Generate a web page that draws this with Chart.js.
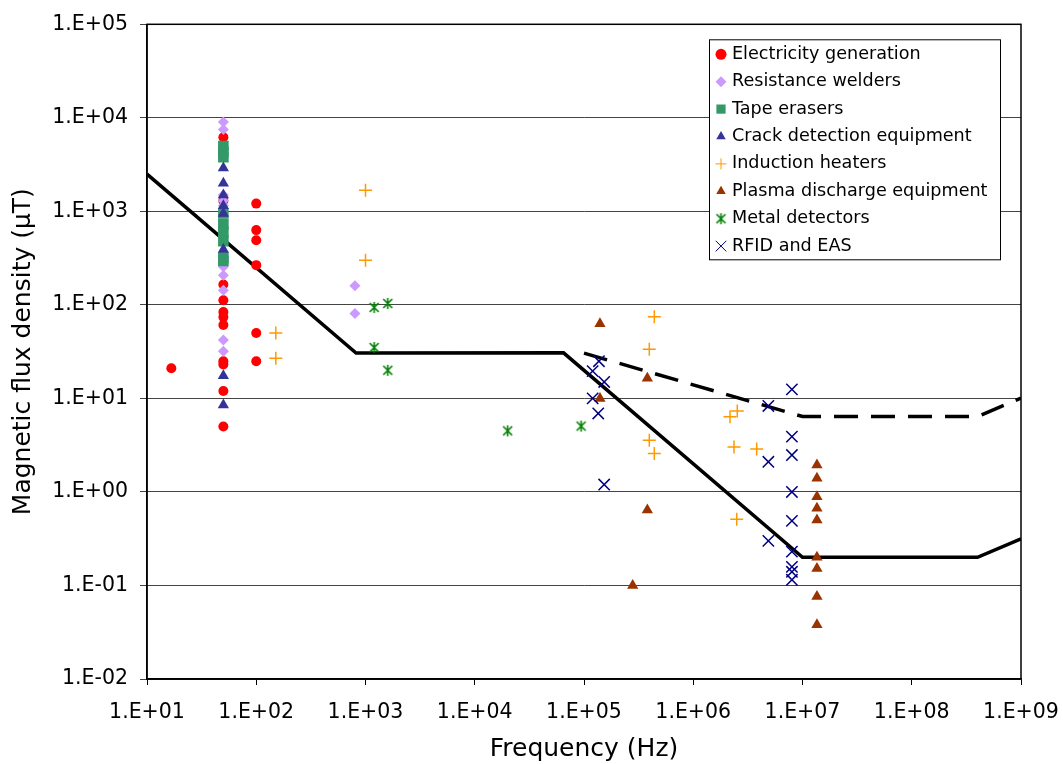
<!DOCTYPE html>
<html>
<head>
<meta charset="utf-8">
<script src="https://cdn.jsdelivr.net/npm/chart.js@4.4.1/dist/chart.umd.min.js"></script>
<style>
  html, body { margin: 0; padding: 0; background: #fff; }
  #wrap { width: 1063px; height: 764px; }
</style>
</head>
<body>
<div id="wrap"><canvas id="chart" width="1063" height="764"></canvas></div>
<script>
// Frequency (Hz) and magnetic flux density (uT) per source
const elecF = [16.7, 50, 50, 50, 50, 50, 50, 50, 50, 50, 50, 50, 100, 100, 100, 100, 100, 100];
const elecB = [21, 6200, 1300, 165, 112, 84, 74, 61, 25, 23, 12, 5, 1210, 630, 490, 266, 50, 25];

const weldF = [50, 50, 50, 50, 50, 50, 50, 50, 50, 50, 800, 800];
const weldB = [9000, 7500, 1500, 1300, 1150, 255, 207, 143, 42, 32, 160, 81];

const tapeF = [50, 50, 50, 50, 50, 50, 50, 50, 50];
const tapeB = [5000, 4300, 3800, 950, 730, 600, 480, 320, 295];

const crackF = [50, 50, 50, 50, 50, 50, 50, 50];
const crackB = [2900, 2000, 1500, 1150, 950, 390, 17.5, 8.5];

const heatF = [151, 151, 1000, 1000, 440e3, 396e3, 396e3, 440e3, 2.17e6, 2.53e6, 2.36e6, 3.81e6, 2.5e6];
const heatB = [50, 26.8, 1680, 300, 74.5, 33.6, 3.58, 2.58, 6.35, 7.35, 3.03, 2.87, 0.51];

const plasmaF = [140e3, 140e3, 380e3, 380e3, 279e3, 13.56e6, 13.56e6, 13.56e6, 13.56e6, 13.56e6, 13.56e6, 13.56e6, 13.56e6, 13.56e6];
const plasmaB = [63, 10, 16.4, 0.64, 0.1, 1.94, 1.40, 0.89, 0.67, 0.50, 0.20, 0.152, 0.076, 0.038];

const metalF = [1200, 1600, 1200, 1600, 20000, 94000];
const metalB = [94, 103.5, 35, 20, 4.5, 5.06];

const rfidF = [137e3, 120e3, 153e3, 120e3, 135e3, 153e3, 8e6, 4.87e6, 8e6, 8e6, 4.87e6, 8e6, 8e6, 4.87e6, 8e6, 8e6, 8e6, 8e6];
const rfidB = [25, 19.6, 15, 10, 6.9, 1.2, 12.5, 8.3, 3.9, 2.48, 2.1, 1.0, 0.49, 0.30, 0.23, 0.158, 0.14, 0.115];

// reference level curves
const limitF = [10, 820, 65000, 1e7, 4e8, 1e9];
const limitB = [2500, 30.5, 30.7, 0.2, 0.2, 0.316];
const dashF = [1e5, 1e7, 4e8, 1e9];
const dashB = [30.5, 6.4, 6.4, 10.1];

const xTicks = [1e1, 1e2, 1e3, 1e4, 1e5, 1e6, 1e7, 1e8, 1e9];
const yTicks = [1e-2, 1e-1, 1e0, 1e1, 1e2, 1e3, 1e4, 1e5];

const pts = (xs, ys) => xs.map((x, i) => ({ x: x, y: ys[i] }));

const fmtExp = v => {
    const e = Math.round(Math.log10(v));
    return '1.E' + (e < 0 ? '-' : '+') + String(Math.abs(e)).padStart(2, '0');
};

// Excel-style asterisk marker
function asterisk(color) {
    const c = document.createElement('canvas');
    c.width = 13; c.height = 13;
    const g = c.getContext('2d');
    g.strokeStyle = color;
    g.lineWidth = 1.6;
    g.beginPath();
    g.moveTo(2, 2); g.lineTo(11, 11);
    g.moveTo(11, 2); g.lineTo(2, 11);
    g.moveTo(6.5, 1); g.lineTo(6.5, 12);
    g.stroke();
    return c;
}

const series = [
    { label: 'Electricity generation', f: elecF, b: elecB, color: '#FF0000', style: 'circle', r: 5 },
    { label: 'Resistance welders', f: weldF, b: weldB, color: '#CC99FF', style: 'rectRot', r: 5.5 },
    { label: 'Tape erasers', f: tapeF, b: tapeB, color: '#339966', style: 'rect', r: 7.5 },
    { label: 'Crack detection equipment', f: crackF, b: crackB, color: '#333399', style: 'triangle', r: 6.5 },
    { label: 'Induction heaters', f: heatF, b: heatB, color: '#FF9900', style: 'cross', r: 6.5 },
    { label: 'Plasma discharge equipment', f: plasmaF, b: plasmaB, color: '#993300', style: 'triangle', r: 6.5 },
    { label: 'Metal detectors', f: metalF, b: metalB, color: '#008000', style: asterisk('#008000'), r: 6 },
    { label: 'RFID and EAS', f: rfidF, b: rfidB, color: '#000080', style: 'crossRot', r: 8 }
];

const datasets = series.map((s, i) => ({
    label: s.label,
    data: pts(s.f, s.b),
    pointStyle: s.style,
    pointRadius: s.r,
    pointHoverRadius: s.r,
    backgroundColor: s.color,
    borderColor: s.color,
    borderWidth: (s.style === 'cross' || s.style === 'crossRot') ? 1.5 : 0,
    order: series.length - i
}));

datasets.push({
    label: 'limit',
    data: pts(limitF, limitB),
    showLine: true,
    borderColor: '#000',
    borderWidth: 3.5,
    pointRadius: 0,
    order: 20
});
datasets.push({
    label: 'limit2',
    data: pts(dashF, dashB),
    showLine: true,
    borderColor: '#000',
    borderWidth: 3.5,
    borderDash: [24, 13],
    pointRadius: 0,
    order: 21
});

const frameAndLegend = {
    id: 'frameAndLegend',
    afterDatasetsDraw(chart) {
        const { ctx, chartArea: a } = chart;
        ctx.save();
        ctx.strokeStyle = '#000';
        ctx.lineWidth = 1.5;
        ctx.strokeRect(a.left, a.top, a.right - a.left, a.bottom - a.top);

        const x0 = a.right - 312, y0 = a.top + 15, w = 291, h = 220;
        ctx.fillStyle = '#fff';
        ctx.fillRect(x0, y0, w, h);
        ctx.lineWidth = 1;
        ctx.strokeStyle = '#000';
        ctx.strokeRect(x0 + 0.5, y0 + 0.5, w, h);

        ctx.font = '17.6px "DejaVu Sans"';
        ctx.textBaseline = 'middle';
        series.forEach((s, i) => {
            const y = y0 + 15 + i * 27.4;
            const mx = x0 + 12;
            ctx.fillStyle = s.color;
            ctx.strokeStyle = s.color;
            const isLine = s.style === 'cross' || s.style === 'crossRot';
            if (Chart.helpers && Chart.helpers.drawPoint) {
                Chart.helpers.drawPoint(ctx, {
                    pointStyle: s.style,
                    rotation: 0,
                    radius: s.style === 'rect' ? 6.5 : (s.style === 'crossRot' ? 7.5 : 5.5),
                    borderWidth: isLine ? 1.5 : 0
                }, mx, y);
            }
            ctx.fillStyle = '#000';
            ctx.fillText(s.label, x0 + 23, y);
        });
        ctx.restore();
    }
};

Chart.defaults.font.family = '"DejaVu Sans", Verdana, sans-serif';
Chart.defaults.color = '#000';

new Chart(document.getElementById('chart'), {
    type: 'scatter',
    data: { datasets: datasets },
    options: {
        responsive: false,
        animation: false,
        layout: { padding: { top: 24, right: 42, left: 0, bottom: 0 } },
        plugins: {
            legend: { display: false },
            tooltip: { enabled: false }
        },
        scales: {
            x: {
                type: 'logarithmic',
                min: 10,
                max: 1e9,
                afterBuildTicks: scale => { scale.ticks = xTicks.map(v => ({ value: v })); },
                afterFit: scale => {
                    scale.height = 85;
                    scale.paddingLeft = 0;
                    scale.paddingRight = 0;
                },
                border: { color: '#000', width: 1.5 },
                grid: { drawOnChartArea: false, tickLength: 6, color: '#000' },
                ticks: {
                    font: { size: 20.5 },
                    padding: 15,
                    maxRotation: 0,
                    autoSkip: false,
                    callback: v => fmtExp(v)
                },
                title: {
                    display: true,
                    text: 'Frequency (Hz)',
                    font: { size: 25 },
                    padding: { top: 0, bottom: 0 }
                }
            },
            y: {
                type: 'logarithmic',
                min: 0.01,
                max: 1e5,
                afterBuildTicks: scale => { scale.ticks = yTicks.map(v => ({ value: v })); },
                afterFit: scale => { scale.width = 147; },
                border: { color: '#000', width: 1.5 },
                grid: { color: '#444', lineWidth: 1, tickLength: 7, tickColor: '#444' },
                ticks: {
                    font: { size: 20.5 },
                    padding: 12,
                    autoSkip: false,
                    callback: v => fmtExp(v)
                },
                title: {
                    display: true,
                    text: 'Magnetic flux density (\u03BCT)',
                    font: { size: 25 },
                    padding: { top: 8, bottom: 0 }
                }
            }
        }
    },
    plugins: [frameAndLegend]
});
</script>
</body>
</html>
